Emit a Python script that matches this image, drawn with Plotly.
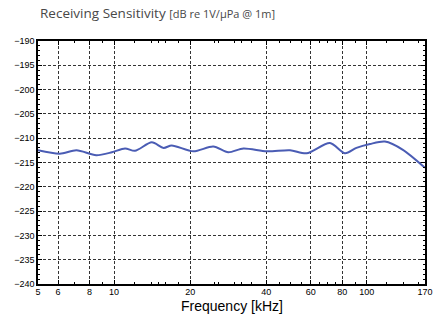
import plotly.graph_objects as go

freq_khz = [5.0, 6.1, 7.1, 8.5, 9.8, 11.05, 12.1, 14.1, 15.7, 16.9, 20.6, 24.7, 28.3, 32.5,
            40.2, 49.7, 57.8, 71.5, 82.0, 91.0, 103.0, 118.0, 139.0, 170.0]
sensitivity_db = [-212.5, -213.2, -212.5, -213.5, -212.9, -212.1, -212.6, -210.85, -212.0,
                  -211.5, -212.7, -211.7, -212.9, -212.1, -212.7, -212.5, -213.1, -211.0,
                  -213.1, -212.0, -211.2, -210.7, -212.4, -216.1]

x_tick_vals = [5, 6, 8, 10, 20, 40, 60, 80, 100, 170]
x_tick_text = ["5", "6", "8", "10", "20", "40", "60", "80", "100", "170"]
x_minor_vals = [7, 9, 12, 14, 15, 16, 18, 25, 26, 30, 32, 35, 45, 50, 55, 65, 70, 75, 90, 120, 140, 160]
y_tick_vals = list(range(-240, -189, 5))

W, H = 436, 322

fig = go.Figure()
fig.add_trace(go.Scatter(
    x=freq_khz, y=sensitivity_db, mode="lines",
    line=dict(color="#4a5cb4", width=2, shape="spline", smoothing=0.8),
    hoverinfo="skip", showlegend=False,
))

fig.update_layout(
    width=W, height=H,
    margin=dict(l=38, r=11, t=41, b=38, autoexpand=False),
    paper_bgcolor="white", plot_bgcolor="white",
    font=dict(family="Liberation Sans", color="black"),
    title=dict(
        text="Receiving Sensitivity <span style='font-size:11px'>[dB re 1V/µPa @ 1m]</span>",
        x=40 / W, xref="container", xanchor="left", y=1 - 13 / H, yref="container", yanchor="middle",
        pad=dict(l=0, r=0, t=0, b=0),
        font=dict(family="Open Sans", size=13.5, color="#484848"),
    ),
    xaxis=dict(
        type="log", range=[0.69897, 2.230449], automargin=False,
        tickmode="array", tickvals=x_tick_vals, ticktext=x_tick_text,
        tickfont=dict(size=9, family="Liberation Sans"), ticklabeloverflow="allow",
        ticklabelstandoff=-2,
        showgrid=True, gridcolor="#333", gridwidth=1, griddash="3px,2px",
        showline=True, linecolor="black", linewidth=1.5, mirror="ticks",
        ticks="inside", ticklen=4, tickcolor="black",
        minor=dict(tickvals=x_minor_vals, ticks="inside", ticklen=2, tickcolor="black", showgrid=False),
        zeroline=False,
    ),
    yaxis=dict(
        range=[-240, -190], tickmode="array", tickvals=y_tick_vals, automargin=False,
        tickfont=dict(size=9, family="Liberation Sans"),
        showgrid=True, gridcolor="#333", gridwidth=1, griddash="3px,2px",
        showline=True, linecolor="black", linewidth=1.5, mirror="ticks",
        ticks="inside", ticklen=4, tickcolor="black",
        minor=dict(dtick=1, ticks="inside", ticklen=2, tickcolor="black", showgrid=False),
        zeroline=False,
    ),
    annotations=[dict(
        text="Frequency [kHz]", x=0.5, xref="paper", y=0, yref="paper",
        xanchor="center", yanchor="top", yshift=-12, showarrow=False,
        font=dict(size=14, family="Liberation Sans", color="black"),
    )],
)

fig.write_html(
    "out.html",
    config={"displayModeBar": False},
    post_script="document.body.style.margin='0';document.documentElement.style.overflow='hidden';",
)
